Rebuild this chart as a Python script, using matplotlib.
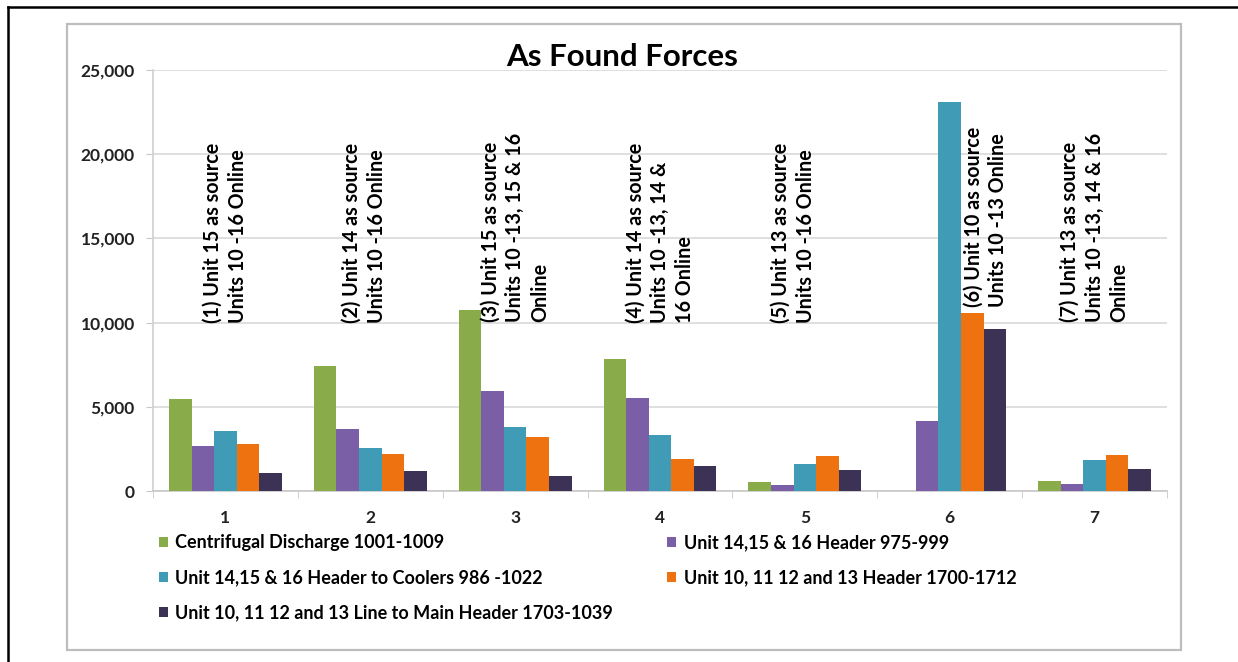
import matplotlib
matplotlib.use("Agg")
import matplotlib.pyplot as plt
from matplotlib.patches import Rectangle
from matplotlib.lines import Line2D
import numpy as np

plt.rcParams['font.family'] = ['Lato', 'DejaVu Sans']

categories = ["1", "2", "3", "4", "5", "6", "7"]
series_names = [
    "Centrifugal Discharge 1001-1009",
    "Unit 14,15 & 16 Header 975-999",
    "Unit 14,15 & 16 Header to Coolers 986 -1022",
    "Unit 10, 11 12 and 13 Header 1700-1712",
    "Unit 10, 11 12 and 13 Line to Main Header 1703-1039",
]
centrifugal = [5480, 7440, 10750, 7840, 520, 0, 610]
header_975 = [2700, 3670, 5930, 5520, 380, 4170, 400]
coolers_986 = [3550, 2560, 3790, 3310, 1590, 23100, 1830]
header_1700 = [2780, 2180, 3230, 1890, 2080, 10550, 2120]
line_1703 = [1090, 1190, 890, 1510, 1250, 9640, 1330]
series_values = [centrifugal, header_975, coolers_986, header_1700, line_1703]
colors = ["#8aab4a", "#7a5ea6", "#3f9bb6", "#ee7310", "#3b3256"]

annotations = [
    "(1) Unit 15 as source\nUnits 10 -16 Online",
    "(2) Unit 14 as source\nUnits 10 -16 Online",
    "(3) Unit 15 as source\nUnits 10 -13, 15 & 16\nOnline",
    "(4) Unit 14 as source\nUnits 10 -13, 14 &\n16 Online",
    "(5) Unit 13 as source\nUnits 10 -16 Online",
    "(6) Unit 10 as source\nUnits 10 -13 Online",
    "(7) Unit 13 as source\nUnits 10 -13, 14 & 16\nOnline",
]
yticks = [0, 5000, 10000, 15000, 20000, 25000]

W, H = 1238, 662
fig = plt.figure(figsize=(W / 100, H / 100), dpi=100)

# outer black border
fig.add_artist(Line2D([8 / W, 8 / W], [0, 1 - 7 / H], transform=fig.transFigure, color="black", lw=1.8))
fig.add_artist(Line2D([8 / W, 1], [1 - 7 / H, 1 - 7 / H], transform=fig.transFigure, color="black", lw=1.8))
# inner chart box
fig.add_artist(Rectangle((67 / W, 1 - 650 / H), (1181 - 67) / W, (650 - 24) / H,
                         transform=fig.transFigure, fill=False, edgecolor="#bdbdbd", lw=1.6))

ax = fig.add_axes([153 / W, 1 - 491 / H, (1167 - 153) / W, (491 - 70) / H])
x = np.arange(len(categories))
bw = 0.156
for i, (vals, c, name) in enumerate(zip(series_values, colors, series_names)):
    ax.bar(x + (i - 2) * bw, vals, width=bw, color=c, label=name, zorder=3)

ax.set_xlim(-0.5, len(categories) - 0.5)
ax.set_ylim(0, 25000)
ax.set_yticks(yticks)
ax.set_yticklabels([f"{v:,}" for v in yticks], fontsize=12.5, fontweight="bold", color="#222222")
ax.set_xticks(x)
ax.set_xticklabels(categories, fontsize=12.5, fontweight="bold", color="#222222")
ax.tick_params(axis="x", length=0, pad=14)
ax.tick_params(axis="y", length=5, color="#c8c8c8", pad=8)
ax.set_xticks(np.arange(-0.5, len(categories)), minor=True)
ax.tick_params(axis="x", which="minor", length=5, color="#c8c8c8")
ax.grid(axis="y", color="#d9d9d9", lw=1.2, zorder=0)
for s in ["top", "right"]:
    ax.spines[s].set_visible(False)
ax.spines["left"].set_color("#d0d0d0")
ax.spines["bottom"].set_color("#c8c8c8")
ax.spines["left"].set_linewidth(1.2)
ax.spines["bottom"].set_linewidth(1.2)

# annotations
ann_dx = [0, -0.04, 0, 0, -0.08, 0.25, 0]
ann_y = [9950, 9950, 10050, 9950, 9950, 10950, 10050]
for i, txt in enumerate(annotations):
    ax.text(i + ann_dx[i], ann_y[i], txt, rotation=90, ha="center", va="bottom",
            multialignment="left", fontsize=14.2, fontweight="bold", color="black",
            linespacing=1.3, zorder=5)

fig.text(622 / W, 1 - 57 / H, "As Found Forces", ha="center", va="center",
         fontsize=22.5, fontweight="bold", color="black")

handles, labels = ax.get_legend_handles_labels()
order = [0, 2, 4, 1, 3]
leg = fig.legend([handles[k] for k in order], [labels[k] for k in order],
                 loc="upper left", bbox_to_anchor=(152 / W, 1 - 527 / H), ncol=2,
                 frameon=False, prop={"size": 13, "weight": "bold"},
                 handlelength=0.5, handleheight=0.5, handletextpad=0.4,
                 columnspacing=3.0, labelspacing=1.0, borderaxespad=0)

fig.savefig("out.png", dpi=100)
